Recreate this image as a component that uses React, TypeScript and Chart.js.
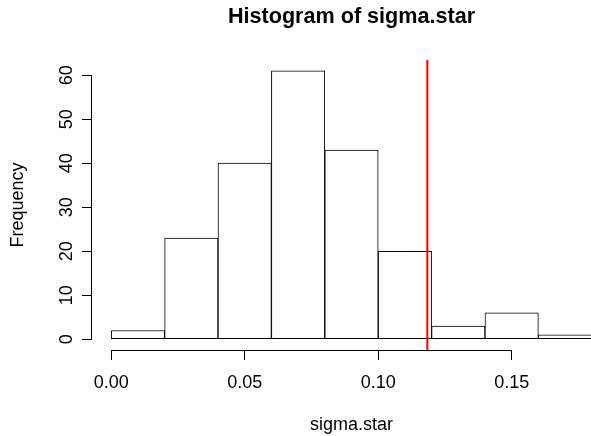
import React, { useEffect, useRef } from "react";
import { Chart, registerables } from "chart.js";

Chart.register(...registerables);

const binCenters = [0.01, 0.03, 0.05, 0.07, 0.09, 0.11, 0.13, 0.15, 0.17];
const counts = [2, 23, 40, 61, 43, 20, 3, 6, 1];
const xTicks = [0, 0.05, 0.1, 0.15];
const yTicks = [0, 10, 20, 30, 40, 50, 60];
const refValue = 0.1184;
const xRange = [-0.0072, 0.1872];
const yRange = [-2.44, 63.44];

const FONT = "'Liberation Sans', Arial, Helvetica, sans-serif";

const axisLines = {
  id: "axisLines",
  afterDraw(chart: any) {
    const { ctx, chartArea, scales } = chart;
    const x = scales.x;
    const y = scales.y;
    ctx.save();
    ctx.strokeStyle = "#000";
    ctx.lineWidth = 1;
    ctx.beginPath();
    const yb = Math.round(chartArea.bottom) + 0.5;
    ctx.moveTo(x.getPixelForValue(xTicks[0]), yb);
    ctx.lineTo(x.getPixelForValue(xTicks[xTicks.length - 1]), yb);
    const xl = Math.round(chartArea.left) - 0.5;
    ctx.moveTo(xl, y.getPixelForValue(yTicks[0]));
    ctx.lineTo(xl, y.getPixelForValue(yTicks[yTicks.length - 1]));
    ctx.stroke();
    ctx.restore();
  },
};

export default function App() {
  const ref = useRef<HTMLCanvasElement>(null);
  useEffect(() => {
    if (!ref.current) return;
    const chart = new Chart(ref.current, {
      type: "bar",
      data: {
        datasets: [
          {
            type: "bar",
            data: binCenters.map((c, i) => ({ x: c, y: counts[i] })),
            backgroundColor: "#ffffff",
            borderColor: "#000000",
            borderWidth: 1,
            borderSkipped: false,
            barPercentage: 1,
            categoryPercentage: 1,
            order: 2,
          } as any,
          {
            type: "line",
            data: [
              { x: refValue, y: yRange[0] },
              { x: refValue, y: yRange[1] },
            ],
            borderColor: "#ff0000",
            borderWidth: 2,
            pointRadius: 0,
            order: 1,
          } as any,
        ],
      },
      options: {
        animation: false,
        responsive: true,
        maintainAspectRatio: false,
        layout: { padding: 0 },
        plugins: {
          legend: { display: false },
          tooltip: { enabled: false },
          title: {
            display: true,
            fullSize: false,
            text: "Histogram of sigma.star",
            color: "#000",
            font: { family: FONT, size: 21.6, weight: "bold", lineHeight: 1.2 },
            padding: { top: 4.3, bottom: 29.78 },
          },
        },
        scales: {
          x: {
            type: "linear",
            offset: false,
            min: xRange[0],
            max: xRange[1],
            afterBuildTicks: (s: any) => {
              s.ticks = xTicks.map((v) => ({ value: v }));
            },
            afterFit: (s: any) => {
              s.height = 86;
            },
            grid: {
              display: true,
              offset: false,
              drawOnChartArea: false,
              drawTicks: true,
              tickLength: 10,
              tickColor: "#000",
              color: "#000",
            },
            border: { display: false },
            ticks: {
              color: "#000",
              font: { family: FONT, size: 18 },
              padding: 12.4,
              maxRotation: 0,
              minRotation: 0,
              autoSkip: false,
              callback: (v: any) => Number(v).toFixed(2),
            },
            title: {
              display: true,
              text: "sigma.star",
              color: "#000",
              font: { family: FONT, size: 18, lineHeight: 1.2 },
              padding: { top: 0, bottom: 0 },
            },
          },
          y: {
            type: "linear",
            min: yRange[0],
            max: yRange[1],
            afterBuildTicks: (s: any) => {
              s.ticks = yTicks.map((v) => ({ value: v }));
            },
            afterFit: (s: any) => {
              s.width = 92;
            },
            grid: {
              display: true,
              drawOnChartArea: false,
              drawTicks: true,
              tickLength: 10,
              tickColor: "#000",
              color: "#000",
            },
            border: { display: false },
            ticks: {
              color: "#000",
              font: { family: FONT, size: 18 },
              padding: 4.5,
              minRotation: 90,
              maxRotation: 90,
              crossAlign: "center",
              autoSkip: false,
              callback: (v: any) => String(v),
            },
            title: {
              display: true,
              text: "Frequency",
              color: "#000",
              font: { family: FONT, size: 18, lineHeight: 1.2 },
              padding: { top: 7, bottom: 0 },
            },
          },
        },
      },
      plugins: [axisLines],
    } as any);
    return () => chart.destroy();
  }, []);
  return (
    <div style={{ position: "fixed", left: 0, top: 0, width: 611, height: 436, background: "#fff" }}>
      <canvas ref={ref} />
    </div>
  );
}
